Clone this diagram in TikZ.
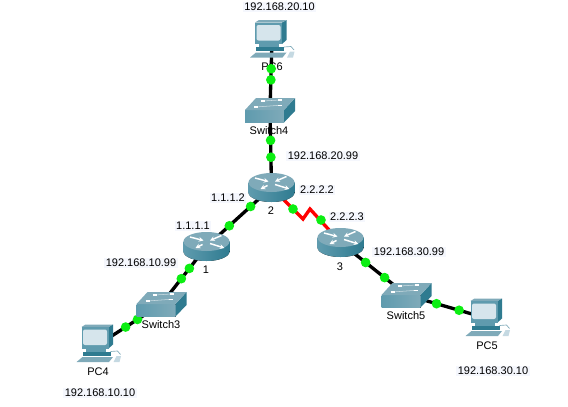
\documentclass[tikz,border=0pt]{standalone}
\usepackage{fontspec}
\setmainfont{Liberation Sans}
\usetikzlibrary{arrows.meta}

\definecolor{linkgreen}{HTML}{0CEE12}
\definecolor{ipback}{HTML}{F5F7FD}
\definecolor{tealdark}{HTML}{2F7B90}
\definecolor{tealmid}{HTML}{5F9BAE}
\definecolor{teallight}{HTML}{7FAAB9}
\definecolor{screenblue}{HTML}{D6E5EC}

\tikzset{
    routerbody/.style={left color=tealmid, middle color=white!90!teallight, right color=tealdark},
    routerarrow/.style={white, line width=1.1pt, -{Stealth[length=3.5pt,width=3.5pt]}},
    router/.pic={
        \fill[routerbody] (0,5) ellipse [x radius=23, y radius=9.5];
        \fill[routerbody] (-23,-5) rectangle (23,5);
        \fill[teallight] (0,-5) ellipse [x radius=23, y radius=9.5];
        \draw[routerarrow] (-16.5,-9.5) -- (-3,-6);
        \draw[routerarrow] (15,-11) -- (3.5,-6);
        \draw[routerarrow] (-4,-2) -- (-11,1.5);
        \draw[routerarrow] (3.5,-3) -- (18,1.5);
    },
    netswitch/.pic={
        \fill[left color=tealmid, right color=teallight] (-25,0) -- (14,0) -- (14,12.5) -- (-25,12.5) -- cycle;
        \fill[tealdark] (14,0) -- (25,-12) -- (25,1) -- (14,12.5) -- cycle;
        \fill[teallight] (-25,0) -- (-14,-12) -- (25,-12) -- (14,0) -- cycle;
        \draw[white!60!teallight, line width=.4pt] (-7,-9) -- (10,-10) (-14,-3) -- (9.5,-4.7);
        \draw[white, line width=1pt] (-9,-9) -- (-5,-9) (8,-10) -- (12,-10) (-16,-3) -- (-12,-3) (7.5,-4.7) -- (11.5,-4.7);
    },
    desktop/.pic={
        \fill[tealdark] (10,-17.5) -- (14.5,-20) -- (14.5,0) -- (10,4) -- cycle;
        \fill[teallight] (-17,-17.5) -- (-13,-20) -- (14.5,-20) -- (10,-17.5) -- cycle;
        \fill[tealmid] (-17,-17.5) rectangle (10,4);
        \fill[screenblue, rounded corners=1.5pt] (-15.5,-15) rectangle (8.5,0.5);
        \fill[tealmid] (-13,4) rectangle (7,7);
        \fill[tealdark] (-16,7) rectangle (12,11);
        \fill[teallight] (-22,17.5) -- (-16,12.5) -- (14.5,12.5) -- (10.5,17.5) -- cycle;
        \draw[teallight, line width=.5pt] (12,7) -- (19,6.5) -- (22,10);
        \fill[screenblue!80!teallight] (15,17.5) -- (18,11.5) -- (22.5,11.5) -- (21,17.5) -- cycle;
    }
}

\begin{document}
\begin{tikzpicture}[
        x=.75pt, y=-.75pt,
        device/.style={inner sep=0pt, minimum size=0pt},
        caption/.style={inner sep=0pt, font=\fontsize{8.25}{10}\selectfont},
        ipaddr/.style={caption, fill=ipback, inner xsep=1pt, inner ysep=1pt},
        link/.style={draw=black, line width=2.5pt},
        serial/.style={draw=red, line width=2.5pt},
        dot/.style={circle, fill=linkgreen, inner sep=0pt, minimum size=7.25pt}
    ]
        \useasboundingbox (0,0) rectangle (568,407);

        % labels stay under the links
        \node[ipaddr] (ippc6) at (279.5,7) {192.168.20.10};
        \node[caption] (namepc6) at (272,67) {PC6};
        \node[caption] (namesw4) at (269,131) {Switch4};
        \node[ipaddr] (ipsw4) at (323,156) {192.168.20.99};
        \node[ipaddr] (ipr2b) at (317,190) {2.2.2.2};
        \node[ipaddr] (ipr2a) at (228,198) {1.1.1.2};
        \node[caption] (namer2) at (271,211) {2};
        \node[ipaddr] (ipr1a) at (193,226) {1.1.1.1};
        \node[ipaddr] (ipr3a) at (347,217) {2.2.2.3};
        \node[caption] (namer1) at (206,270) {1};
        \node[caption] (namer3) at (340,267) {3};
        \node[ipaddr] (ipr1b) at (141,263) {192.168.10.99};
        \node[ipaddr] (ipr3b) at (409,252) {192.168.30.99};
        \node[caption] (namesw3) at (161,325) {Switch3};
        \node[caption] (namesw5) at (406,316) {Switch5};
        \node[caption] (namepc4) at (98,372) {PC4};
        \node[caption] (namepc5) at (487,346) {PC5};
        \node[ipaddr] (ippc4) at (100,393) {192.168.10.10};
        \node[ipaddr] (ippc5) at (493,371) {192.168.30.10};

        \node[device] (pc6) at (272,40) {};
        \node[device] (sw4) at (270,110) {};
        \node[device] (r2) at (271.5,187.5) {};
        \node[device] (r1) at (206.5,246.5) {};
        \node[device] (r3) at (340.5,242.5) {};
        \node[device] (sw3) at (161.5,304) {};
        \node[device] (sw5) at (406.5,295) {};
        \node[device] (pc4) at (98.5,344.5) {};
        \node[device] (pc5) at (487.5,318.5) {};
        \coordinate (zigA) at (303,219);
        \coordinate (zigB) at (310,209);

        \draw[link] (pc6) -- node[dot, pos=.41] {} node[dot, pos=.57] {} (sw4);
        \draw[link] (sw4) -- node[dot, pos=.39] {} node[dot, pos=.61] {} (r2);
        \draw[link] (r2) -- node[dot, pos=.32] {} node[dot, pos=.65] {} (r1);
        \draw[link] (r1) -- node[dot, pos=.38] {} node[dot, pos=.56] {} (sw3);
        \draw[link] (sw3) -- node[dot, pos=.38] {} node[dot, pos=.57] {} (pc4);
        \draw[link] (r3) -- node[dot, pos=.38] {} node[dot, pos=.67] {} (sw5);
        \draw[link] (sw5) -- node[dot, pos=.37] {} node[dot, pos=.65] {} (pc5);
        \draw[serial] (r2) -- (zigA) -- (zigB) -- (r3);
        \node[dot] (serialA) at (293,209) {};
        \node[dot] (serialB) at (321,220) {};

        \pic at (pc6) {desktop};
        \pic at (pc4) {desktop};
        \pic at (pc5) {desktop};
        \pic at (sw4) {netswitch};
        \pic at (sw3) {netswitch};
        \pic at (sw5) {netswitch};
        \pic at (r2) {router};
        \pic at (r1) {router};
        \pic at (r3) {router};
\end{tikzpicture}
\end{document}
